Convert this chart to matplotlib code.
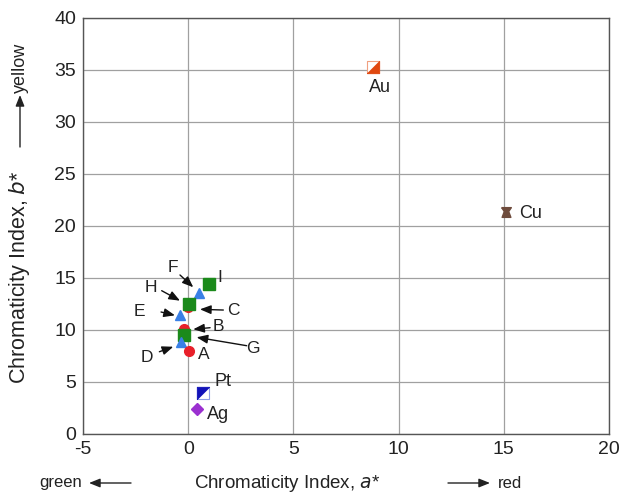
import matplotlib
matplotlib.use("Agg")
import numpy as np
from matplotlib import pyplot as plt

plt.rcParams['font.family'] = ['Liberation Sans', 'DejaVu Sans']
plt.rcParams['axes.unicode_minus'] = False

# sample points (a*, b*)
names = ['A', 'B', 'C', 'D', 'E', 'F', 'G', 'H', 'I']
a_star = [0.04, -0.2, 0.0, -0.34, -0.39, 0.52, -0.2, 0.05, 1.0]
b_star = [8.0, 10.07, 12.2, 8.8, 11.44, 13.6, 9.5, 12.5, 14.4]
kinds = ['circle', 'circle', 'circle', 'tri', 'tri', 'tri', 'square', 'square', 'square']

# reference metals
metal_names = ['Pt', 'Ag', 'Au', 'Cu']
metal_a = [0.72, 0.41, 8.8, 15.1]
metal_b = [3.9, 2.43, 35.3, 21.3]

# label positions and arrows (tail -> head) for the crowded cluster
label_pos = {'A': (0.72, 7.62), 'B': (1.43, 10.38), 'C': (2.14, 11.92), 'D': (-1.97, 7.38),
             'E': (-2.32, 11.76), 'F': (-0.74, 16.03), 'G': (3.09, 8.24), 'H': (-1.78, 14.11),
             'I': (1.48, 15.07), 'Pt': (1.67, 5.03), 'Ag': (1.43, 1.83), 'Au': (9.12, 33.27),
             'Cu': (16.25, 21.25)}
arrows = {'F': ((-0.39, 15.29), (0.24, 14.11)), 'H': ((-1.26, 13.78), (-0.39, 12.82)),
          'E': ((-1.29, 11.73), (-0.63, 11.41)), 'C': ((1.67, 11.92), (0.56, 11.99)),
          'B': ((1.04, 10.22), (0.24, 10.07)), 'G': ((2.78, 8.49), (0.40, 9.30)),
          'D': ((-1.37, 7.91), (-0.71, 8.39))}

styles = {'circle': dict(marker='o', color='#e8202a', ms=7),
          'tri': dict(marker='^', color='#3a80e6', ms=6.5),
          'square': dict(marker='s', color='#1b8a1b', ms=8.5)}

arrow_style = '-|>,head_length=0.55,head_width=0.22'

fig = plt.figure(figsize=(6.32, 4.95), dpi=100)
ax = fig.add_axes([83 / 632, 61 / 495, 526 / 632, 416 / 495])
ax.set_xlim(-5, 20)
ax.set_ylim(0, 40)
ax.set_xticks(np.arange(-5, 21, 5))
ax.set_yticks(np.arange(0, 41, 5))
ax.grid(True, color='#a0a0a0', lw=0.9)
ax.set_axisbelow(True)
ax.tick_params(length=0, labelsize=14, colors='#222222')
ax.tick_params(axis='x', pad=5)
ax.tick_params(axis='y', pad=5)
for s in ax.spines.values():
    s.set_color('#555555')
    s.set_linewidth(1.0)

# draw in an order so the upper squares sit on top of circles
order = ['C', 'E', 'F', 'H', 'I', 'B', 'G', 'D', 'A']
for n in order:
    i = names.index(n)
    st = styles[kinds[i]]
    ax.plot(a_star[i], b_star[i], ls='none', marker=st['marker'], ms=st['ms'],
            mfc=st['color'], mec=st['color'], zorder=3)

# half-filled squares for Pt and Au
sq = [(-1, -1), (1, -1), (1, 1), (-1, 1), (-1, -1)]
upper_left = [(-1, -1), (-1, 1), (1, 1), (-1, -1)]
lower_right = [(-1, -1), (1, -1), (1, 1), (-1, -1)]

ax.plot(metal_a[0], metal_b[0], ls='none', marker=sq, ms=9, mfc='white', mec='#8f9fe8', mew=0.8, zorder=3)
ax.plot(metal_a[0], metal_b[0], ls='none', marker=upper_left, ms=9, mfc='#1212b8', mec='#1212b8', mew=0.5, zorder=4)
ax.plot(metal_a[1], metal_b[1], ls='none', marker='D', ms=6.5, mfc='#9b30d0', mec='#9b30d0', zorder=3)
ax.plot(metal_a[2], metal_b[2], ls='none', marker=sq, ms=9, mfc='white', mec='#f0a080', mew=0.8, zorder=3)
ax.plot(metal_a[2], metal_b[2], ls='none', marker=lower_right, ms=9, mfc='#e04810', mec='#e04810', mew=0.5, zorder=4)
cu_shape = [(-1, 1), (1, 1), (0.45, 0.2), (0.9, -1), (-0.9, -1), (-0.45, 0.2), (-1, 1)]
ax.plot(metal_a[3], metal_b[3], ls='none', marker=cu_shape, ms=7, mfc='#6e4b3c', mec='#6e4b3c', zorder=3)

for n, (x, y) in label_pos.items():
    ax.text(x, y, n, fontsize=13 if len(n) > 1 else 12.5, color='#222222',
            ha='center', va='center', zorder=5)

for n, (tail, head) in arrows.items():
    ax.annotate('', xy=head, xytext=tail,
                arrowprops=dict(arrowstyle=arrow_style, color='#111111', lw=1.0,
                                mutation_scale=12, shrinkA=0, shrinkB=0), zorder=5)


def fig_arrow(p0, p1):
    # arrow in pixel units of the figure, from p0 to p1 (origin top-left)
    ax.annotate('', xy=(p1[0] / 632, 1 - p1[1] / 495), xytext=(p0[0] / 632, 1 - p0[1] / 495),
                xycoords='figure fraction', textcoords='figure fraction', annotation_clip=False,
                arrowprops=dict(arrowstyle=arrow_style, color='#222222', lw=1.0,
                                mutation_scale=12, shrinkA=0, shrinkB=0))


# axis titles with colour direction hints
fig.text(287 / 632, 1 - 483 / 495, 'Chromaticity Index, $\\it{a}$*', fontsize=13.5,
         color='#222222', ha='center', va='center')
fig.text(61 / 632, 1 - 483 / 495, 'green', fontsize=12, color='#222222', ha='center', va='center')
fig_arrow((131, 483), (89, 483))
fig_arrow((448, 483), (490, 483))
fig.text(498 / 632, 1 - 483 / 495, 'red', fontsize=12, color='#222222', ha='left', va='center')

fig.text(20 / 632, 1 - 277 / 495, 'Chromaticity Index, $\\it{b}$*', fontsize=15.5,
         color='#222222', ha='center', va='center', rotation=90)
fig_arrow((20, 147), (20, 95))
fig.text(20 / 632, 1 - 68 / 495, 'yellow', fontsize=13, color='#222222',
         ha='center', va='center', rotation=90)

fig.savefig('out.png', dpi=100)
